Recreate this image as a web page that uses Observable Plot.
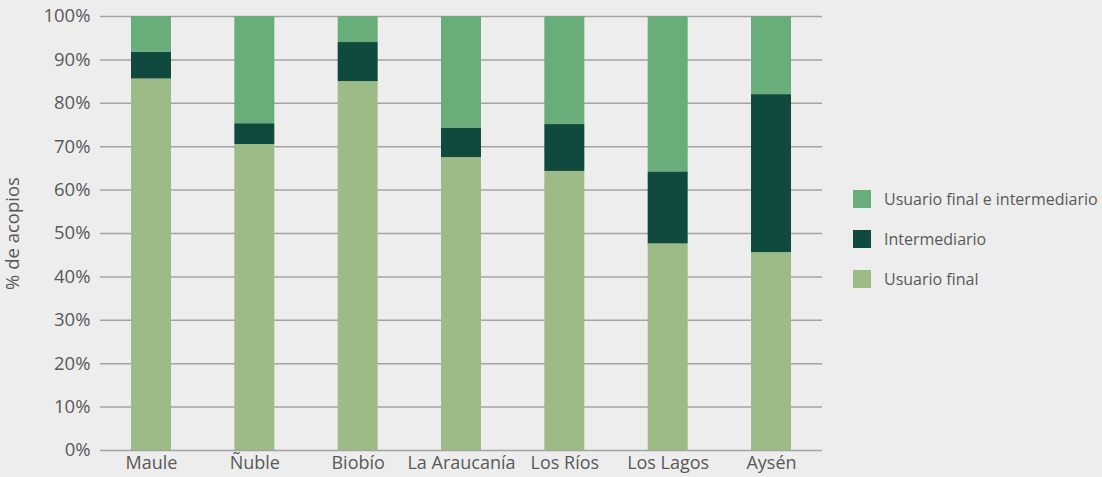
<!DOCTYPE html>
<html>
<head>
<meta charset="utf-8">
<script src="https://cdn.jsdelivr.net/npm/d3@7"></script>
<script src="https://cdn.jsdelivr.net/npm/@observablehq/plot@0.6"></script>
<style>
  html, body { margin: 0; padding: 0; background: #ededed; }
  #wrap { position: relative; width: 1102px; height: 477px; overflow: hidden; }
  #legend { position: absolute; left: 853px; top: 190px; font-family: "Open Sans", sans-serif; font-size: 16px; color: #595959; }
  .item { display: flex; align-items: center; height: 18px; margin-bottom: 22px; white-space: nowrap; }
  .sw { width: 18px; height: 18px; margin-right: 13px; flex: none; }
</style>
</head>
<body>
<div id="wrap"><div id="chart"></div><div id="legend"></div></div>
<script>
const regions = ["Maule", "Ñuble", "Biobío", "La Araucanía", "Los Ríos", "Los Lagos", "Aysén"];
const series = ["Usuario final e intermediario", "Intermediario", "Usuario final"];
const colors = ["#69ad7b", "#10493d", "#9dbb86"];
const usuarioFinal = [85.6, 70.5, 85.0, 67.5, 64.3, 47.6, 45.6];
const intermediario = [6.2, 4.8, 9.0, 6.8, 10.8, 16.6, 36.4];
const ambos = [8.2, 24.7, 6.0, 25.7, 24.9, 35.8, 18.0];
const yTicks = [0, 10, 20, 30, 40, 50, 60, 70, 80, 90, 100];

const data = [];
regions.forEach((r, i) => {
  data.push({region: r, serie: "Usuario final", value: usuarioFinal[i]});
  data.push({region: r, serie: "Intermediario", value: intermediario[i]});
  data.push({region: r, serie: "Usuario final e intermediario", value: ambos[i]});
});
const stackOrder = ["Usuario final", "Intermediario", "Usuario final e intermediario"];

const chart = Plot.plot({
  width: 830,
  height: 477,
  marginTop: 16,
  marginBottom: 27,
  marginLeft: 100,
  marginRight: 8,
  style: {background: "transparent", fontFamily: "Open Sans, sans-serif", fontSize: "18px", color: "#595959"},
  x: {domain: regions, paddingInner: 0.613, paddingOuter: 0.3, round: false, label: null},
  y: {domain: [0, 100], label: null},
  color: {domain: series, range: colors},
  marks: [
    Plot.ruleY(yTicks, {stroke: "#a3a3a3", strokeWidth: 1.5}),
    Plot.barY(data, Plot.stackY({order: stackOrder}, {x: "region", y: "value", fill: "serie"})),
    Plot.axisX({tickSize: 0, tickPadding: 6, label: null, fontSize: 18}),
    Plot.axisY(yTicks, {tickSize: 0, tickPadding: 10, tickFormat: d => d + "%", fontSize: 18.5,
      label: "% de acopios", labelAnchor: "center", labelArrow: "none", labelOffset: 95})
  ]
});
document.getElementById("chart").appendChild(chart);

const legend = document.getElementById("legend");
series.forEach((s, i) => {
  const it = document.createElement("div");
  it.className = "item";
  const sw = document.createElement("div");
  sw.className = "sw";
  sw.style.background = colors[i];
  const t = document.createElement("span");
  t.textContent = s;
  it.appendChild(sw); it.appendChild(t);
  legend.appendChild(it);
});
</script>
</body>
</html>
